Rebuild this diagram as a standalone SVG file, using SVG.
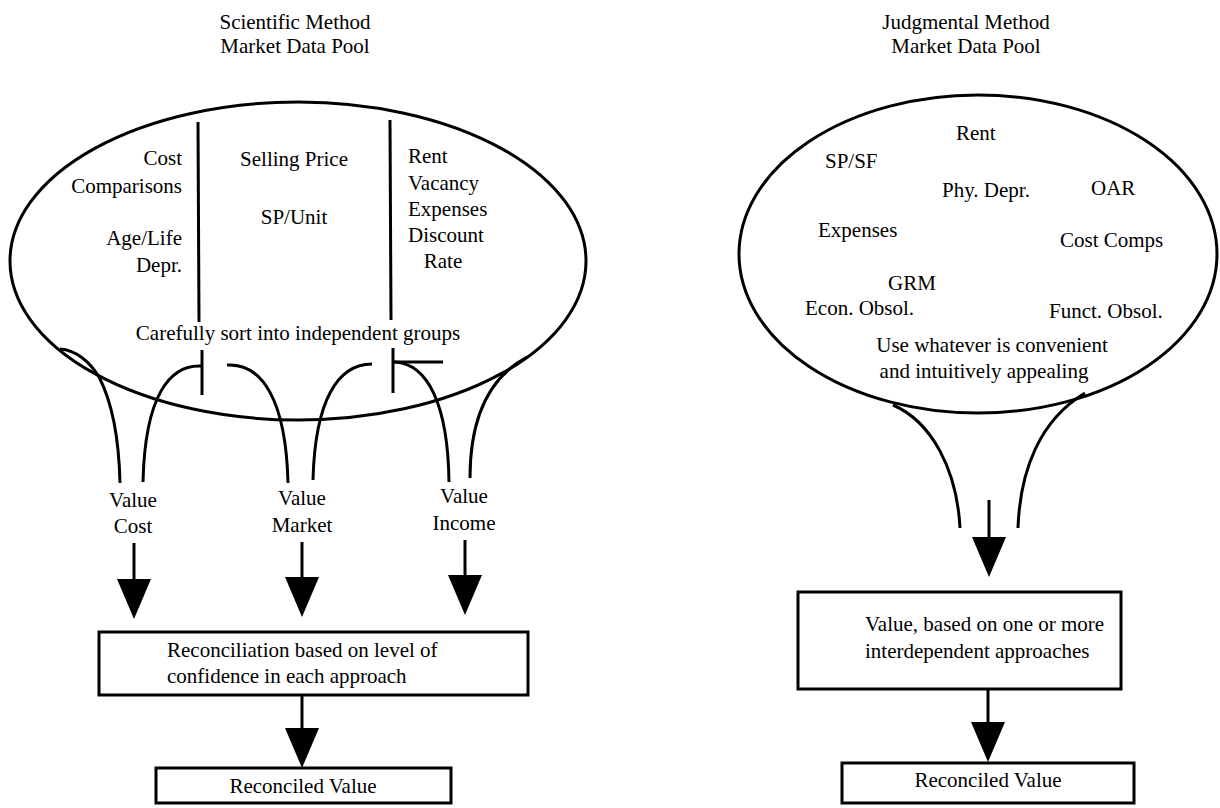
<svg xmlns="http://www.w3.org/2000/svg" width="1220" height="808" viewBox="0 0 1220 808">
<style>
text{font-family:"Liberation Serif","Times New Roman",serif;font-size:21px;fill:#000}
.e{fill:none;stroke:#000;stroke-width:3}
.b{fill:#fff;stroke:#000;stroke-width:3}
.c{fill:none;stroke:#000;stroke-width:3;stroke-linecap:butt}
.a{fill:none;stroke:#000;stroke-width:3}
</style>
<defs>
<marker id="ah" viewBox="0 0 40 34" markerWidth="40" markerHeight="34" refX="0" refY="17" orient="auto" markerUnits="userSpaceOnUse">
<path d="M0,0 L40,17 L0,34 Z" fill="#000"/>
</marker>
</defs>
<rect width="1220" height="808" fill="#fff"/>

<g id="title-left">
<text x="295" y="29" text-anchor="middle">Scientific Method</text>
<text x="295" y="53" text-anchor="middle">Market Data Pool</text>
</g>
<g id="title-right">
<text x="966" y="29" text-anchor="middle">Judgmental Method</text>
<text x="966" y="53" text-anchor="middle">Market Data Pool</text>
</g>

<g id="pool-left">
<ellipse class="e" cx="298" cy="261" rx="288" ry="159"/>
<line class="c" x1="198" y1="122" x2="199" y2="322"/>
<line class="c" x1="390" y1="120" x2="391" y2="320"/>
<text x="182" y="165" text-anchor="end">Cost</text>
<text x="182" y="193" text-anchor="end">Comparisons</text>
<text x="182" y="245" text-anchor="end">Age/Life</text>
<text x="182" y="272" text-anchor="end">Depr.</text>
<text x="294" y="166" text-anchor="middle">Selling Price</text>
<text x="294" y="224" text-anchor="middle">SP/Unit</text>
<text x="408" y="163">Rent</text>
<text x="408" y="190">Vacancy</text>
<text x="408" y="216">Expenses</text>
<text x="408" y="242">Discount</text>
<text x="443" y="268" text-anchor="middle">Rate</text>
<text x="298" y="340" text-anchor="middle">Carefully sort into independent groups</text>
</g>

<g id="pool-right">
<ellipse class="e" cx="978" cy="254" rx="239" ry="159"/>
<text x="956" y="140">Rent</text>
<text x="825" y="168">SP/SF</text>
<text x="942" y="197">Phy. Depr.</text>
<text x="1091" y="195">OAR</text>
<text x="818" y="237">Expenses</text>
<text x="1060" y="247">Cost Comps</text>
<text x="888" y="290">GRM</text>
<text x="805" y="315">Econ. Obsol.</text>
<text x="1049" y="318">Funct. Obsol.</text>
<text x="992" y="352" text-anchor="middle">Use whatever is convenient</text>
<text x="984" y="378" text-anchor="middle">and intuitively appealing</text>
</g>

<g id="value-cost"><text x="133" y="507" text-anchor="middle">Value</text><text x="133" y="533" text-anchor="middle">Cost</text></g>
<g id="value-market"><text x="302" y="505" text-anchor="middle">Value</text><text x="302" y="532" text-anchor="middle">Market</text></g>
<g id="value-income"><text x="464" y="503" text-anchor="middle">Value</text><text x="464" y="530" text-anchor="middle">Income</text></g>

<g id="reconciliation">
<rect class="b" x="99" y="632" width="429" height="63"/>
<text x="167" y="657">Reconciliation based on level of</text>
<text x="167" y="683">confidence in each approach</text>
</g>
<g id="reconciled-left">
<rect class="b" x="156" y="768" width="295" height="35"/>
<text x="303" y="793" text-anchor="middle">Reconciled Value</text>
</g>

<g id="value-judgmental">
<rect class="b" x="798" y="592" width="323" height="97"/>
<text x="865" y="631">Value, based on one or more</text>
<text x="865" y="658">interdependent approaches</text>
</g>
<g id="reconciled-right">
<rect class="b" x="842" y="763" width="292" height="40"/>
<text x="988" y="787" text-anchor="middle">Reconciled Value</text>
</g>

<g id="connectors">
<line class="c" x1="202" y1="350" x2="202" y2="395"/>
<line class="c" x1="393" y1="348" x2="393" y2="393"/>
<line class="c" x1="393" y1="362" x2="443" y2="362"/>
<path class="c" d="M60,349 C76,350 90,362 99,377 C112,402 119,440 120,483"/>
<path class="c" d="M202,366 C170,364 145,395 143,482"/>
<path class="c" d="M227,365 C262,363 286,400 288,483"/>
<path class="c" d="M372,364 C338,364 315,400 313,480"/>
<path class="c" d="M395,362 C428,364 448,405 449,482"/>
<path class="c" d="M527,357 C488,378 470,420 470,478"/>
<path class="c" d="M893,405 C932,422 957,470 960,528"/>
<path class="c" d="M1085,393 C1040,420 1020,470 1018,528"/>
<line class="a" x1="134" y1="543" x2="134" y2="579" marker-end="url(#ah)"/>
<line class="a" x1="302" y1="542" x2="302" y2="577" marker-end="url(#ah)"/>
<line class="a" x1="465" y1="540" x2="465" y2="575" marker-end="url(#ah)"/>
<line class="a" x1="302" y1="695" x2="302" y2="728" marker-end="url(#ah)"/>
<line class="a" x1="989" y1="500" x2="989" y2="537" marker-end="url(#ah)"/>
<line class="a" x1="988" y1="689" x2="988" y2="722" marker-end="url(#ah)"/>
</g>
</svg>
